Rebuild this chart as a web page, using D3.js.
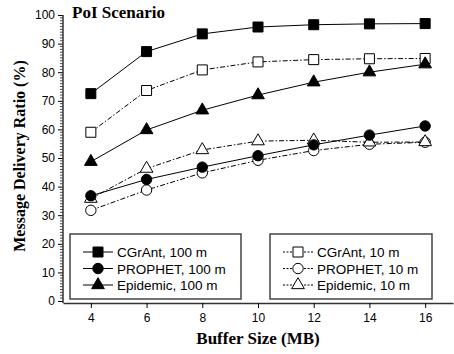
<!DOCTYPE html>
<html lang="en">
    <head>
        <meta charset="utf-8">
        <title>PoI Scenario - Message Delivery Ratio</title>
        <script type="text/javascript" src="https://d3js.org/d3.v7.min.js"></script>
        <style type="text/css">
            body { margin: 0; background: #fff; }
            svg { display: block; }
        </style>
    </head>
    <body>
        <script type="text/javascript">

        //Data
        const bufferSizes = [4, 6, 8, 10, 12, 14, 16];
        const cgrant100 = [72.5, 87.2, 93.4, 95.8, 96.6, 96.9, 97.0];
        const prophet100 = [36.8, 42.5, 46.8, 50.8, 54.6, 58.0, 61.2];
        const epidemic100 = [48.7, 59.8, 66.7, 72.0, 76.5, 80.0, 82.8];
        const cgrant10 = [59.0, 73.6, 80.8, 83.6, 84.4, 84.7, 84.8];
        const prophet10 = [31.7, 38.8, 44.8, 49.2, 52.6, 54.8, 55.5];
        const epidemic10 = [35.8, 46.3, 52.8, 55.9, 56.2, 55.5, 55.6];
        const yTicks = [0, 10, 20, 30, 40, 50, 60, 70, 80, 90, 100];
        const xTicks = [4, 6, 8, 10, 12, 14, 16];

        const series = [
            {name: "CGrAnt, 100 m", values: cgrant100, shape: "square", filled: true},
            {name: "PROPHET, 100 m", values: prophet100, shape: "circle", filled: true},
            {name: "Epidemic, 100 m", values: epidemic100, shape: "triangle", filled: true},
            {name: "CGrAnt, 10 m", values: cgrant10, shape: "square", filled: false},
            {name: "PROPHET, 10 m", values: prophet10, shape: "circle", filled: false},
            {name: "Epidemic, 10 m", values: epidemic10, shape: "triangle", filled: false}
        ];

        const width = 454;
        const height = 354;
        const dashed = "5,2,1.5,2";

        const xScale = d3.scaleLinear().domain([3, 17]).range([63, 453]);
        const yScale = d3.scaleLinear().domain([0, 100]).range([301, 15]);

        const svg = d3.select("body")
                    .append("svg")
                    .attr("width", width)
                    .attr("height", height);

        //marker shapes
        const symbolOf = {
            square: d3.symbol().type(d3.symbolSquare).size(100),
            circle: d3.symbol().type(d3.symbolCircle).size(85),
            triangle: d3.symbol().type(d3.symbolTriangle).size(70)
        };

        function drawMarker(g, s, x, y) {
            g.append("path")
                .attr("d", symbolOf[s.shape]())
                .attr("transform", "translate(" + x + "," + y + ")")
                .attr("fill", s.filled ? "#000" : "#fff")
                .attr("stroke", "#000")
                .attr("stroke-width", 1);
        }

        //Axes
        const xAxisY = yScale(0) + 2;
        const bottomAxis = d3.axisBottom(xScale)
                             .tickValues(xTicks)
                             .tickSize(5)
                             .tickSizeOuter(0)
                             .tickPadding(5);
        const gx = svg.append("g")
            .attr("transform", "translate(0," + xAxisY + ")")
            .call(bottomAxis);

        const leftAxis = d3.axisLeft(yScale)
                           .tickValues(yTicks)
                           .tickSize(5)
                           .tickSizeOuter(0)
                           .tickPadding(3);
        const gy = svg.append("g")
            .attr("transform", "translate(" + xScale(3) + ",0)")
            .call(leftAxis);

        //minor ticks on y
        gy.selectAll("line.minor")
            .data(d3.range(0, 101, 1).filter(v => v % 10 !== 0))
            .enter()
            .append("line")
            .attr("class", "minor")
            .attr("x1", -3).attr("x2", 0)
            .attr("y1", d => yScale(d)).attr("y2", d => yScale(d))
            .attr("stroke", "#000")
            .attr("stroke-width", 0.7);

        // y axis line down to x axis
        gy.select(".domain").remove();
        gy.append("line")
            .attr("x1", 0).attr("x2", 0)
            .attr("y1", yScale(100)).attr("y2", xAxisY)
            .attr("stroke", "#333").attr("stroke-width", 1.5);
        gx.select(".domain").attr("stroke", "#333").attr("stroke-width", 1.5);

        [gx, gy].forEach(g => {
            g.selectAll("text")
                .attr("font-family", "'Liberation Sans', Arial, sans-serif")
                .attr("font-size", "12px")
                .attr("fill", "#000");
            g.selectAll(".tick line").attr("stroke", "#000");
        });

        //Lines
        const line = d3.line()
                       .x((d, i) => xScale(bufferSizes[i]))
                       .y(d => yScale(d));

        series.forEach(s => {
            svg.append("path")
                .attr("d", line(s.values))
                .attr("fill", "none")
                .attr("stroke", "#000")
                .attr("stroke-width", 1)
                .attr("stroke-dasharray", s.filled ? null : dashed);
        });

        //Markers - open ones first, filled on top
        const markers = svg.append("g");
        [3, 4, 5, 0, 1, 2].forEach(k => {
            const s = series[k];
            s.values.forEach((v, i) => drawMarker(markers, s, xScale(bufferSizes[i]), yScale(v)));
        });

        //Legends
        function legend(x, y, w, h, items) {
            const g = svg.append("g");
            g.append("rect")
                .attr("x", x).attr("y", y)
                .attr("width", w).attr("height", h)
                .attr("fill", "#fff")
                .attr("stroke", "#444")
                .attr("stroke-width", 1.5);
            items.forEach((s, i) => {
                const ly = y + 18 + i * 16.5;
                g.append("line")
                    .attr("x1", x + 13).attr("x2", x + 43)
                    .attr("y1", ly).attr("y2", ly)
                    .attr("stroke", "#000")
                    .attr("stroke-width", 1)
                    .attr("stroke-dasharray", s.filled ? null : "2,1.5");
                drawMarker(g, s, x + 28, ly);
                g.append("text")
                    .attr("x", x + 47)
                    .attr("y", ly + 5)
                    .attr("font-family", "'Liberation Sans', Arial, sans-serif")
                    .attr("font-size", "13.5px")
                    .text(s.name);
            });
        }
        legend(70, 234, 171, 65, series.slice(0, 3));
        legend(270, 234, 162, 65, series.slice(3));

        //Titles
        svg.append("text")
            .attr("x", 72)
            .attr("y", 18)
            .attr("font-family", "'Liberation Serif', 'Times New Roman', serif")
            .attr("font-weight", "bold")
            .attr("font-size", "17px")
            .text("PoI Scenario");

        svg.append("text")
            .attr("x", 258)
            .attr("y", 344)
            .attr("text-anchor", "middle")
            .attr("font-family", "'Liberation Serif', 'Times New Roman', serif")
            .attr("font-weight", "bold")
            .attr("font-size", "17px")
            .text("Buffer Size (MB)");

        svg.append("text")
            .attr("transform", "translate(25,156) rotate(-90)")
            .attr("text-anchor", "middle")
            .attr("font-family", "'Liberation Serif', 'Times New Roman', serif")
            .attr("font-weight", "bold")
            .attr("font-size", "16px")
            .text("Message Delivery Ratio (%)");

        </script>
    </body>
</html>
